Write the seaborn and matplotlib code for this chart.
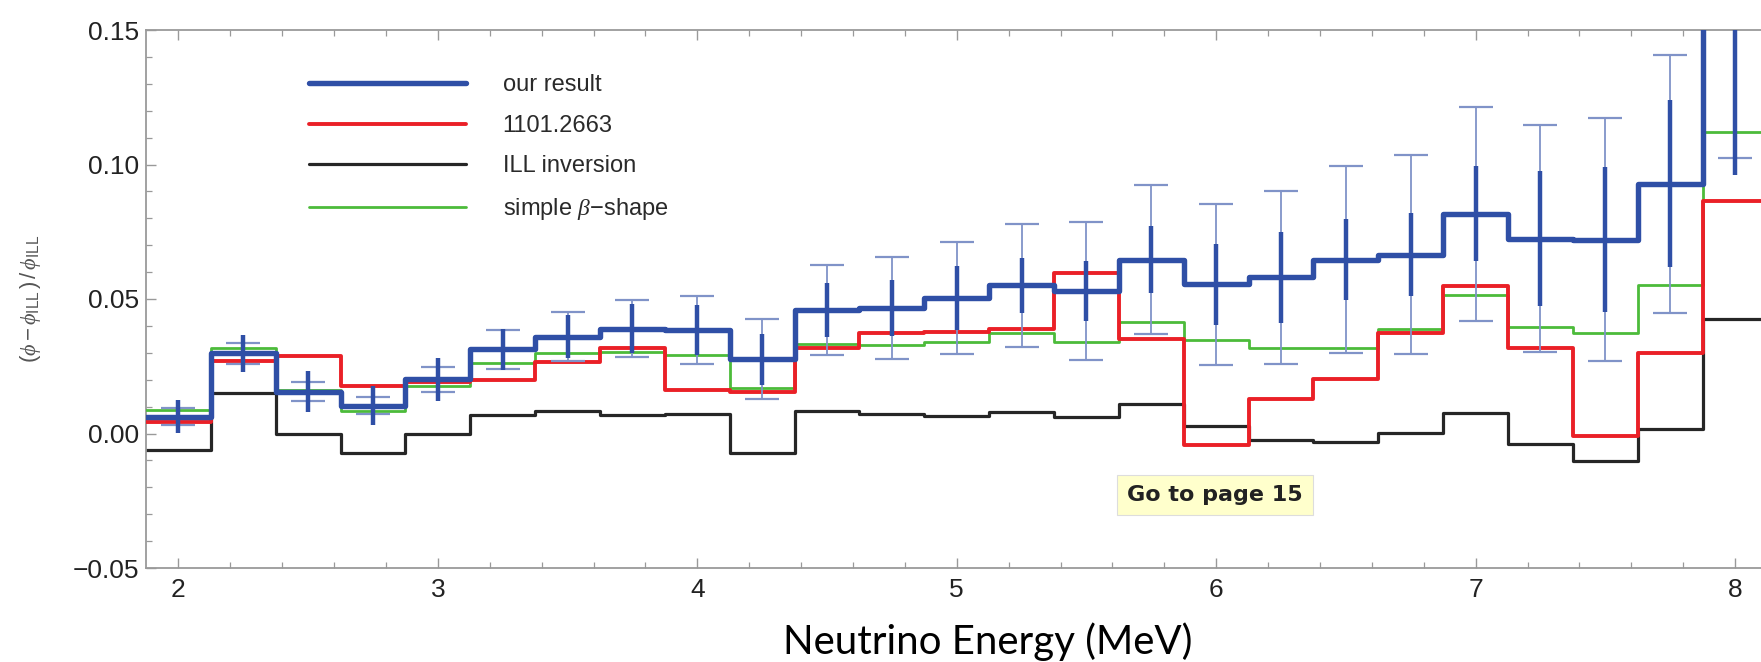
import numpy as np
import pandas as pd
import matplotlib
matplotlib.use("Agg")
import matplotlib.pyplot as plt
import seaborn as sns

# ---- data ----
bin_centers = [2.0, 2.25, 2.5, 2.75, 3.0, 3.25, 3.5, 3.75, 4.0, 4.25, 4.5, 4.75, 5.0,
               5.25, 5.5, 5.75, 6.0, 6.25, 6.5, 6.75, 7.0, 7.25, 7.5, 7.75, 8.0]
bin_width = 0.25

our_result = [0.0063, 0.0298, 0.0156, 0.0104, 0.0201, 0.0313, 0.0360, 0.0390, 0.0384,
              0.0276, 0.0458, 0.0467, 0.0504, 0.0551, 0.0530, 0.0646, 0.0555, 0.0580,
              0.0646, 0.0665, 0.0817, 0.0724, 0.0720, 0.0928, 0.1700]
err_inner = [0.0060, 0.0068, 0.0075, 0.0074, 0.0080, 0.0077, 0.0080, 0.0090, 0.0092,
             0.0095, 0.0100, 0.0105, 0.0120, 0.0102, 0.0110, 0.0125, 0.0150, 0.0170,
             0.0150, 0.0155, 0.0176, 0.0250, 0.0270, 0.0310, 0.0740]
err_outer = [0.0030, 0.0040, 0.0035, 0.0033, 0.0048, 0.0073, 0.0090, 0.0107, 0.0127,
             0.0148, 0.0167, 0.0189, 0.0208, 0.0228, 0.0255, 0.0277, 0.0300, 0.0320,
             0.0348, 0.0370, 0.0398, 0.0422, 0.0452, 0.0480, 0.0675]
ref_1101 = [0.0044, 0.0269, 0.0288, 0.0177, 0.0193, 0.0199, 0.0265, 0.0316, 0.0162,
            0.0155, 0.0316, 0.0372, 0.0378, 0.0387, 0.0595, 0.0353, -0.0042, 0.0127,
            0.0201, 0.0372, 0.0547, 0.0316, -0.0009, 0.0298, 0.0863]
ill_inversion = [-0.0061, 0.0152, 0.0000, -0.0073, 0.0000, 0.0069, 0.0085, 0.0070, 0.0073,
                 -0.0073, 0.0085, 0.0073, 0.0065, 0.0081, 0.0063, 0.0110, 0.0028, -0.0024,
                 -0.0030, 0.0001, 0.0078, -0.0039, -0.0104, 0.0016, 0.0424]
simple_beta = [0.0088, 0.0316, 0.0160, 0.0085, 0.0177, 0.0261, 0.0298, 0.0304, 0.0290,
               0.0168, 0.0332, 0.0329, 0.0341, 0.0372, 0.0341, 0.0415, 0.0347, 0.0316,
               0.0316, 0.0390, 0.0514, 0.0397, 0.0372, 0.0551, 0.1120]

series_names = ["our result", "1101.2663", "ILL inversion", r"simple $\beta$$-$shape"]
x_ticks = [2, 3, 4, 5, 6, 7, 8]
y_ticks = [-0.05, 0.0, 0.05, 0.10, 0.15]

# ---- build step tables ----
centers = np.array(bin_centers)
edges = np.append(centers - bin_width / 2, centers[-1] + bin_width / 2)

def step_frame(vals):
    v = np.asarray(vals)
    return pd.DataFrame({"E": edges, "y": np.append(v, v[-1])})

sns.set_style("ticks")
plt.rcParams["font.family"] = ["Liberation Sans", "DejaVu Sans"]
plt.rcParams["mathtext.fontset"] = "custom"
plt.rcParams["mathtext.rm"] = "Liberation Sans"
plt.rcParams["mathtext.it"] = "Liberation Serif:italic"

fig = plt.figure(figsize=(17.61, 6.62), dpi=100)
ax = fig.add_axes([146 / 1761, 1 - 568 / 662, 1 - 146 / 1761, (568 - 30) / 662])

styles = [
    (ill_inversion, series_names[2], "#262626", 2.3, 2),
    (simple_beta, series_names[3], "#4cbb3a", 2.0, 3),
    (ref_1101, series_names[1], "#ea2027", 2.8, 4),
    (our_result, series_names[0], "#2f4fa6", 3.9, 5),
]
for vals, name, col, lw, z in styles:
    sns.lineplot(data=step_frame(vals), x="E", y="y", ax=ax, color=col, lw=lw,
                 drawstyle="steps-post", estimator=None, sort=False, label=name,
                 zorder=z)

# error bars: thin light bars with caps, thick bars without caps
ax.errorbar(centers, our_result, yerr=err_outer, fmt="none", ecolor="#8093c8",
            elinewidth=1.3, capsize=12, capthick=1.6, zorder=6)
ax.errorbar(centers, our_result, yerr=err_inner, fmt="none", ecolor="#2f4fa6",
            elinewidth=3.2, capsize=0, zorder=7)

ax.set_xlim(1.875, 8.10)
ax.set_ylim(-0.05, 0.15)
ax.set_xticks(x_ticks)
ax.set_xticks(np.arange(2.0, 8.2, 0.2), minor=True)
ax.set_yticks(y_ticks)
ax.set_yticks(np.arange(-0.05, 0.1501, 0.01), minor=True)
ax.set_yticklabels([f"{t:.2f}".replace("-", "\u2212") for t in y_ticks])
ax.set_xticklabels([str(t) for t in x_ticks])

ax.tick_params(axis="both", which="major", direction="in", length=7, width=1,
               color="#999999", labelsize=19, labelcolor="#222222")
ax.tick_params(axis="x", which="major", pad=7, top=True)
ax.tick_params(axis="y", which="major", pad=5)
ax.tick_params(axis="both", which="minor", direction="in", length=4, width=0.9,
               color="#999999", top=True)
for s in ["left", "bottom", "top"]:
    ax.spines[s].set_color("#9a9a9a")
    ax.spines[s].set_linewidth(1.3)
ax.spines["right"].set_visible(False)

ax.set_xlabel("")
ax.set_ylabel(r"$(\phi - \phi_{\rm ILL}\,)\,/\,\phi_{\rm ILL}$", fontsize=16,
              color="#555555")
ax.yaxis.set_label_coords(-0.064, 0.5)

# legend in draw order of the reference
h, l = ax.get_legend_handles_labels()
order = [l.index(n) for n in series_names]
leg = ax.legend([h[i] for i in order], [l[i] for i in order], loc="upper left",
                bbox_to_anchor=(0.101, 0.918), frameon=False, fontsize=17,
                handlelength=6.65, handletextpad=1.55, labelspacing=0.79,
                borderpad=0, borderaxespad=0)
for t in leg.get_texts():
    t.set_color("#2a2a2a")

fig.text(0.561, 0.030, "Neutrino Energy (MeV)", fontsize=29, family="Lato",
         ha="center", va="center", color="black")

fig.text(0.690, 0.253, "Go to page 15", fontsize=16, fontweight="bold",
         family="DejaVu Sans", ha="center", va="center", color="#222222",
         bbox=dict(boxstyle="square,pad=0.45", facecolor="#ffffcc",
                   edgecolor="#dddddd", linewidth=0.8))

fig.savefig("out.png", dpi=100)
